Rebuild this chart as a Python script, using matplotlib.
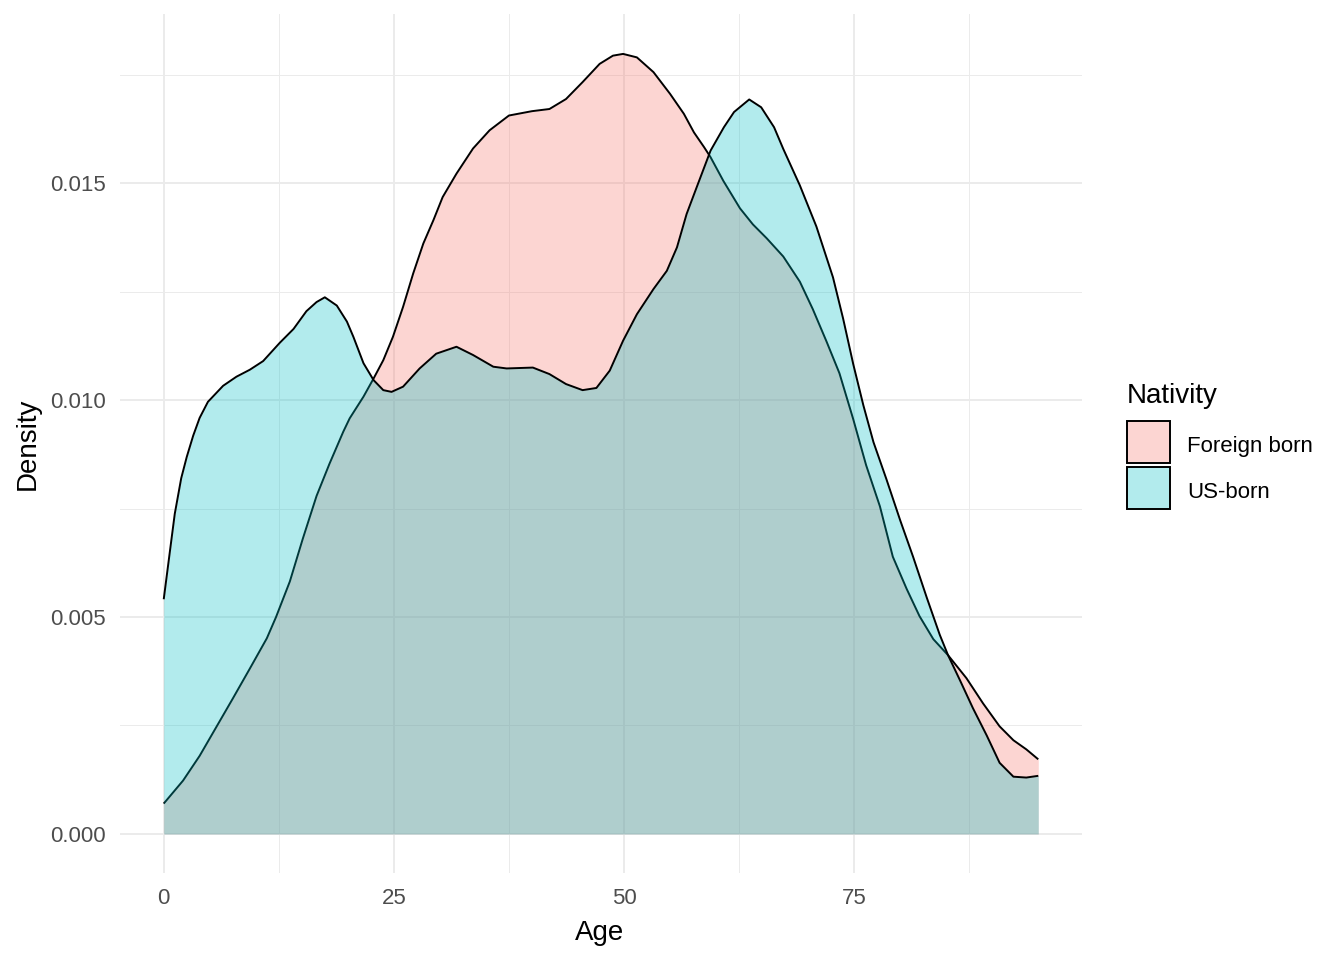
import matplotlib
matplotlib.use("Agg")
import matplotlib.pyplot as plt
from matplotlib.patches import Rectangle

plt.rcParams['font.family'] = ['Liberation Sans', 'DejaVu Sans']

# ---- data ----
fb_age = [0, 2.1, 3.9, 5.7, 7.5, 9.35, 11.2, 12.2, 13.7, 15.1, 16.6, 18.0, 19.5, 20.2,
          21.7, 22.8, 23.85, 24.9, 26.0, 27.1, 28.2, 29.3, 30.3, 31.8, 33.6, 35.4, 37.5,
          40.0, 41.9, 43.7, 45.5, 47.35, 48.8, 49.9, 51.4, 53.2, 55.0, 56.5, 57.6, 58.7,
          59.4, 60.8, 62.6, 64.0, 65.5, 67.3, 69.1, 70.5, 72.0, 73.4, 74.9, 76.3, 77.8,
          79.2, 80.7, 82.1, 83.6, 85.2, 87.2, 89.0, 90.8, 92.3, 93.7, 95.0]
fb_dens = [0.0007, 0.00123, 0.0018, 0.00246, 0.00312, 0.00381, 0.00451, 0.005, 0.00582,
           0.0068, 0.00779, 0.00853, 0.00927, 0.00958, 0.01008, 0.0105, 0.01092, 0.01146,
           0.01215, 0.01292, 0.01361, 0.01415, 0.01468, 0.01522, 0.0158, 0.01622, 0.01656,
           0.01666, 0.01671, 0.01694, 0.01733, 0.01775, 0.01794, 0.01798, 0.0179, 0.01756,
           0.01706, 0.0166, 0.01617, 0.01583, 0.0156, 0.01505, 0.01442, 0.01405, 0.01373,
           0.01331, 0.01273, 0.0121, 0.01135, 0.01062, 0.00956, 0.0085, 0.00755, 0.00639,
           0.00565, 0.00502, 0.00449, 0.00412, 0.00359, 0.00301, 0.00248, 0.00216, 0.00195,
           0.00172]

us_age = [0, 0.65, 1.2, 1.9, 2.5, 3.2, 3.9, 4.8, 6.45, 7.9, 9.35, 10.8, 12.6, 14.1, 15.5,
          16.6, 17.5, 18.8, 19.9, 20.6, 21.7, 22.8, 23.85, 24.75, 26.0, 27.8, 29.6, 31.8,
          33.6, 35.8, 37.25, 40.1, 41.9, 43.7, 45.5, 47.0, 48.45, 49.9, 51.4, 53.2, 54.65,
          55.75, 56.8, 57.9, 59.4, 60.85, 61.95, 63.6, 64.9, 66.3, 67.3, 69.1, 70.9, 72.7,
          73.8, 74.9, 76.0, 77.1, 78.5, 80.0, 81.4, 82.9, 84.3, 85.2, 86.5, 87.9, 89.4,
          90.8, 92.3, 93.7, 95.0]
us_dens = [0.00541, 0.00648, 0.00738, 0.0082, 0.00869, 0.00918, 0.00959, 0.00996, 0.01033,
           0.01054, 0.0107, 0.0109, 0.01132, 0.01164, 0.01205, 0.01226, 0.01237, 0.01218,
           0.01181, 0.01146, 0.01085, 0.01046, 0.01023, 0.01019, 0.01031, 0.01073, 0.01107,
           0.01123, 0.01104, 0.01077, 0.01073, 0.01075, 0.0106, 0.01037, 0.01023, 0.01028,
           0.01068, 0.01137, 0.01198, 0.01256, 0.01298, 0.01352, 0.01429, 0.01491, 0.01575,
           0.01629, 0.01664, 0.01693, 0.01675, 0.01629, 0.01579, 0.01495, 0.014, 0.01283,
           0.01188, 0.01083, 0.00988, 0.00903, 0.00818, 0.00723, 0.00639, 0.00544, 0.00459,
           0.00412, 0.00354, 0.0029, 0.00227, 0.00164, 0.00132, 0.0013, 0.00134]

groups = ["Foreign born", "US-born"]
colors = ["#F8766D", "#00BFC4"]
x_ticks = [0, 25, 50, 75]
y_ticks = [0.000, 0.005, 0.010, 0.015]
y_ticklabels = ["0.000", "0.005", "0.010", "0.015"]

# ---- figure ----
W, H = 1344, 960
fig = plt.figure(figsize=(W / 100, H / 100), dpi=100)
ax = fig.add_axes([120 / W, (H - 873) / H, 962 / W, 859 / H])

series = [(fb_age, fb_dens), (us_age, us_dens)]
for (a, d), c in zip(series, colors):
    ax.fill_between(a, 0, d, color=c, alpha=0.3, linewidth=0, zorder=2)
    ax.plot(a, d, color="black", linewidth=1.4, zorder=2,
            solid_joinstyle="round", solid_capstyle="butt")

ax.set_xlim(-4.75, 99.75)
ax.set_ylim(-0.0009, 0.0189)

ax.set_xticks(x_ticks)
ax.set_xticklabels([str(t) for t in x_ticks])
ax.set_yticks(y_ticks)
ax.set_yticklabels(y_ticklabels)
ax.set_xticks([12.5, 37.5, 62.5, 87.5], minor=True)
ax.set_yticks([0.0025, 0.0075, 0.0125, 0.0175], minor=True)

ax.grid(which="major", color="#EBEBEB", linewidth=1.4)
ax.grid(which="minor", color="#EBEBEB", linewidth=0.7)
ax.set_axisbelow(True)
for s in ax.spines.values():
    s.set_visible(False)
ax.tick_params(which="both", length=0)
ax.tick_params(axis="both", labelsize=16, labelcolor="#4D4D4D")
ax.tick_params(axis="x", pad=11)
ax.tick_params(axis="y", pad=10)

ax.set_xlabel("Age", fontsize=20, color="black")
ax.set_ylabel("Density", fontsize=20, color="black")
ax.xaxis.set_label_coords((600 - 120) / 962, (873 - 940) / 859)
ax.xaxis.label.set_va("baseline")
ax.yaxis.set_label_coords((28 - 120) / 962, 0.5)
ax.yaxis.label.set_va("center")

# ---- legend ----
fig.text(1127 / W, 1 - 403 / H, "Nativity", fontsize=20, ha="left", va="baseline")
key_tops = [421, 467]
label_baselines = [452, 498]
for top, base, c, g in zip(key_tops, label_baselines, colors, groups):
    r = (1127 / W, 1 - (top + 42) / H)
    fig.patches.append(Rectangle(r, 43 / W, 42 / H, transform=fig.transFigure,
                                 facecolor="white", edgecolor="none", zorder=1))
    fig.patches.append(Rectangle(r, 43 / W, 42 / H, transform=fig.transFigure,
                                 facecolor=c, alpha=0.3, edgecolor="none", zorder=2))
    fig.patches.append(Rectangle(r, 43 / W, 42 / H, transform=fig.transFigure,
                                 facecolor="none", edgecolor="black", linewidth=1.4,
                                 zorder=3))
    fig.text(1187 / W, 1 - base / H, g, fontsize=16, ha="left", va="baseline")

fig.savefig("out.png", dpi=100, facecolor="white")
